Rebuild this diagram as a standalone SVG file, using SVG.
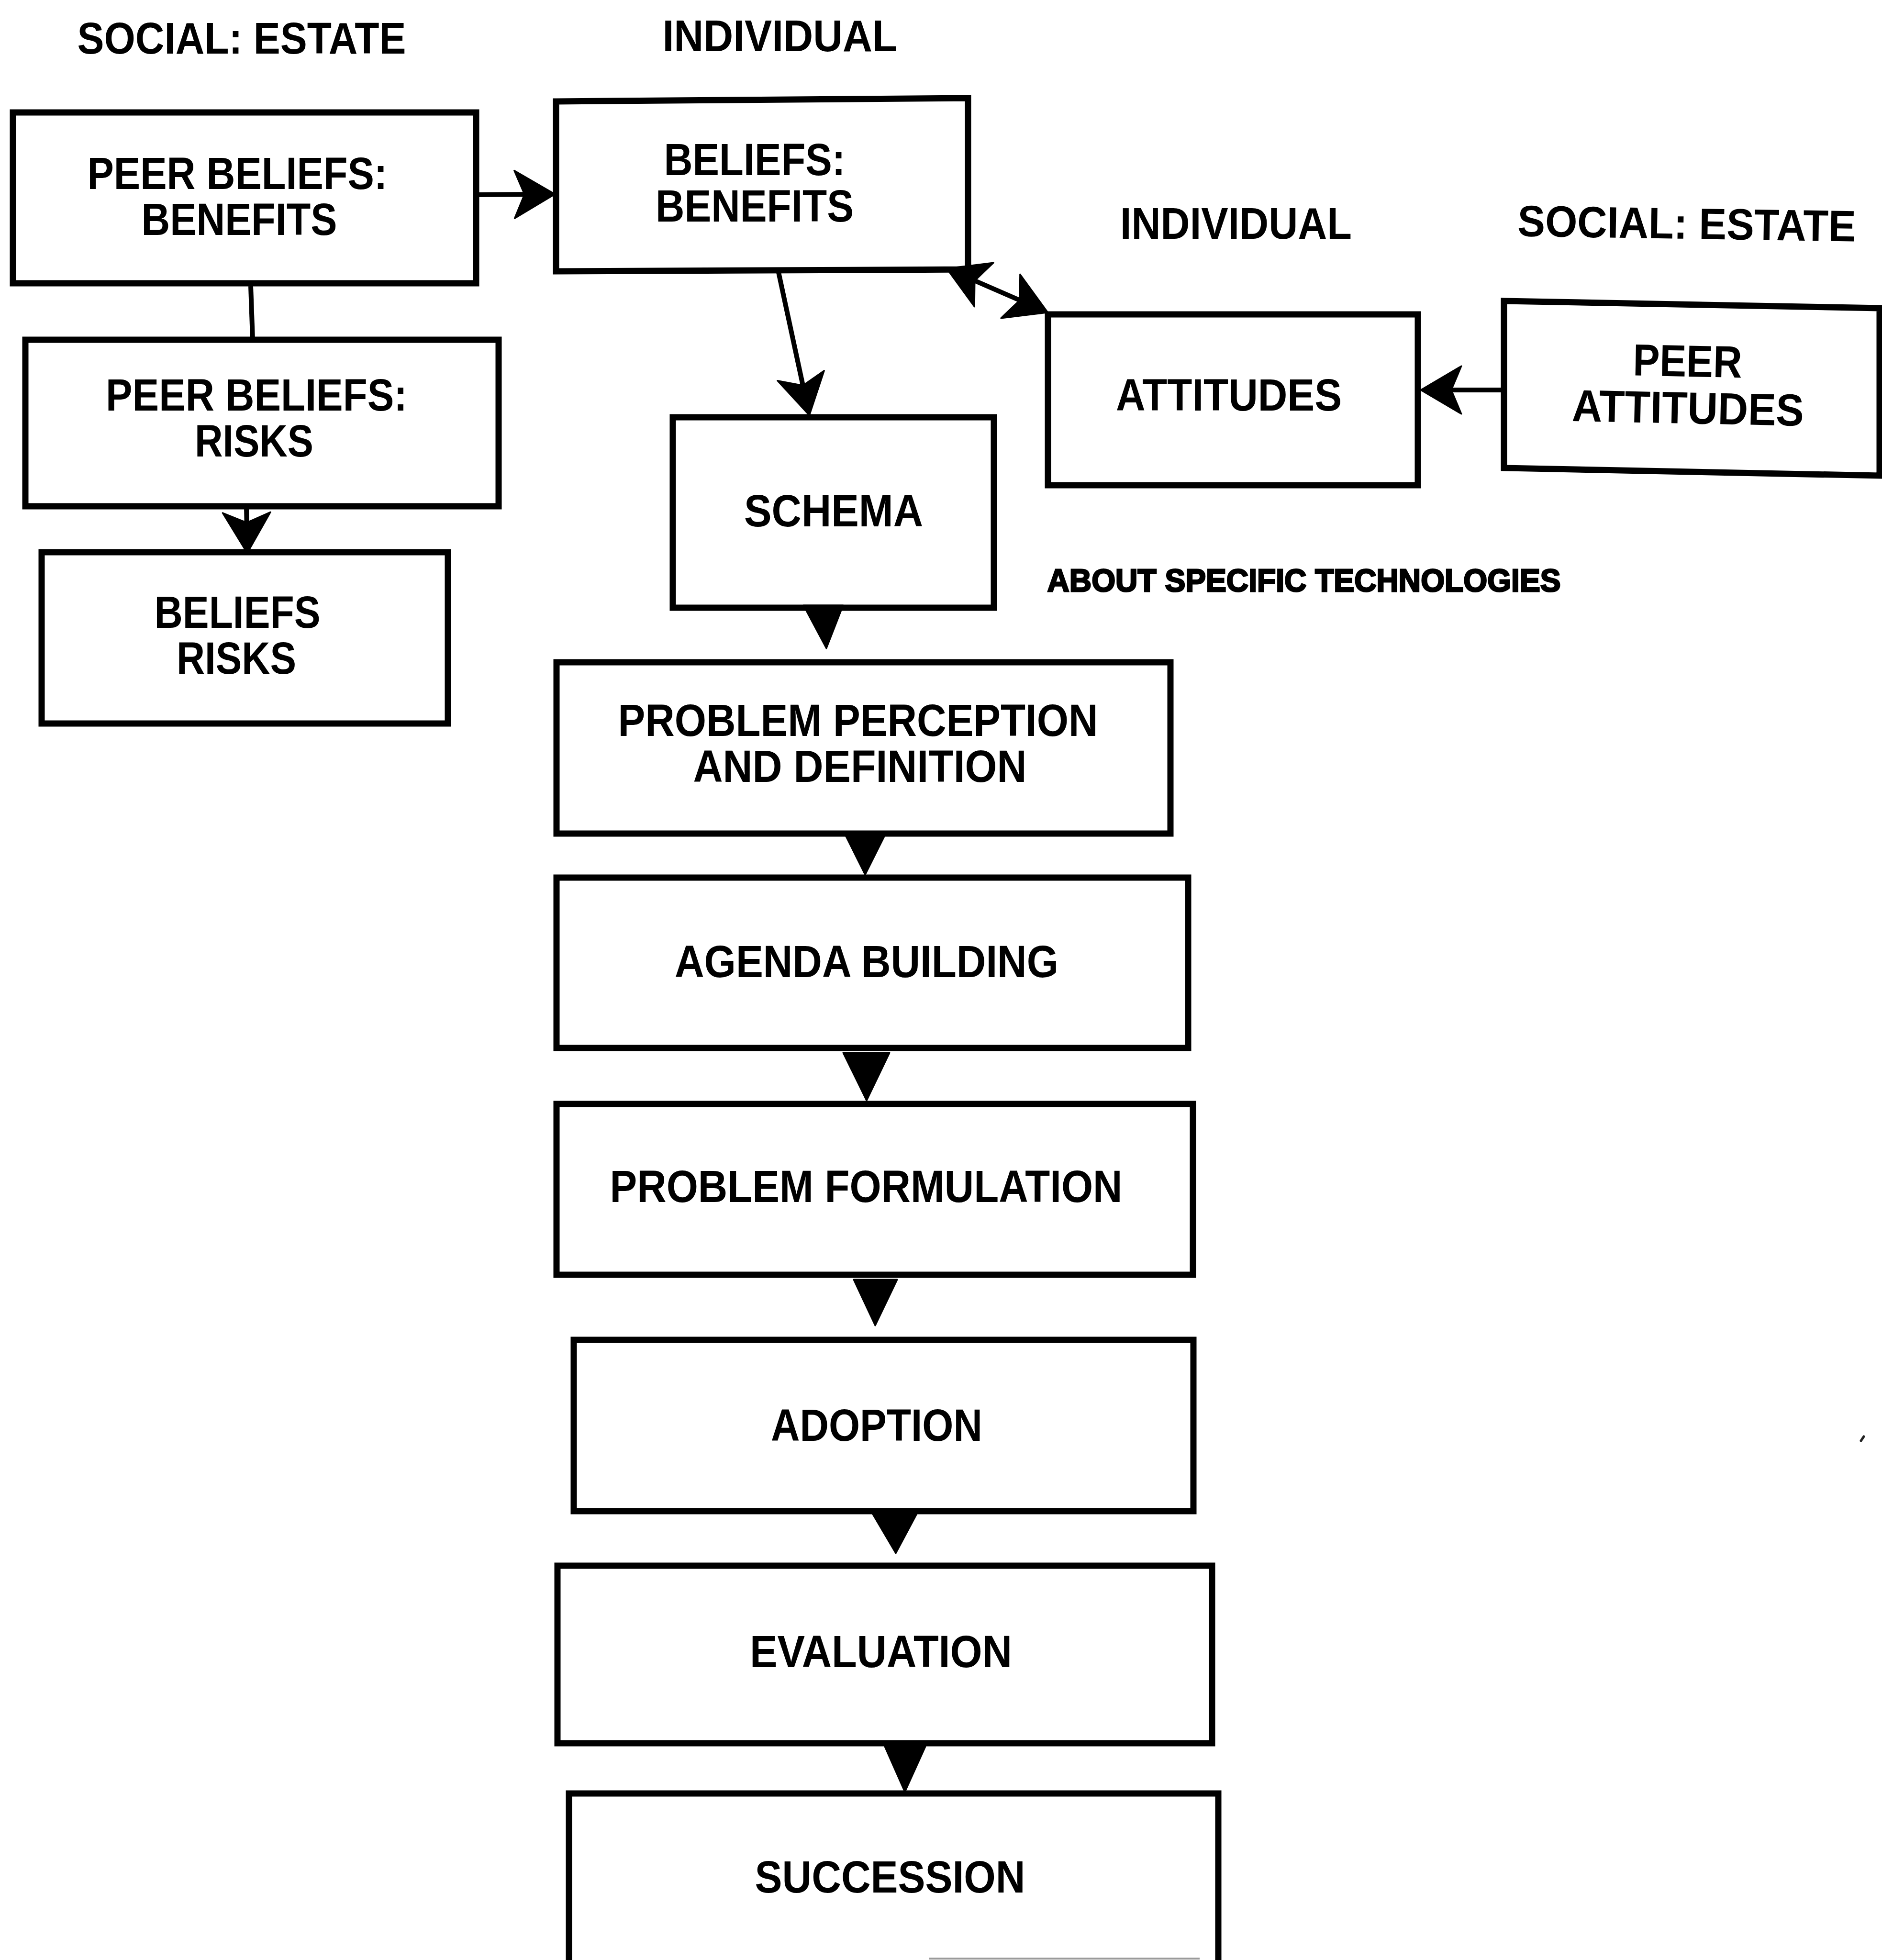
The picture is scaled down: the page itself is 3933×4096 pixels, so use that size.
<svg xmlns="http://www.w3.org/2000/svg" width="3933" height="4096" viewBox="0 0 3933 4096">
  <style>
    .box{fill:#fff;stroke:#000;stroke-width:13;stroke-linejoin:miter}
    .lbl{font-family:"Liberation Sans",Arial,sans-serif;font-weight:bold;font-size:94px;fill:#000;text-anchor:middle}
    .hdr{font-family:"Liberation Sans",Arial,sans-serif;font-weight:bold;font-size:92px;fill:#000;text-anchor:middle}
    .note{font-family:"Liberation Sans",Arial,sans-serif;font-weight:bold;font-size:66px;fill:#000;stroke:#000;stroke-width:3;text-anchor:middle}
    .wire{fill:none;stroke:#000;stroke-width:10}
    .tri{fill:#000;stroke:#000;stroke-width:3;stroke-linejoin:round}
  </style>
  <defs>
    <!-- barbed arrowhead; tip sits 40 units beyond the path end -->
    <marker id="barb" markerUnits="userSpaceOnUse" orient="auto-start-reverse" refX="0" refY="0" markerWidth="10" markerHeight="10" style="overflow:visible">
      <path d="M40,0 L-45,-50 L-24,0 L-45,50 Z" fill="#000" stroke="#000" stroke-width="3" stroke-linejoin="round"/>
    </marker>
  </defs>
  <rect width="3933" height="4096" fill="#fff"/>

  <!-- column headings -->
  <g id="headings">
    <text class="hdr" x="505" y="112" textLength="687" lengthAdjust="spacingAndGlyphs">SOCIAL: ESTATE</text>
    <text class="hdr" x="1630" y="107" textLength="491" lengthAdjust="spacingAndGlyphs">INDIVIDUAL</text>
    <text class="hdr" x="2583" y="499" textLength="484" lengthAdjust="spacingAndGlyphs">INDIVIDUAL</text>
    <text class="hdr" x="3525" y="499" textLength="707" lengthAdjust="spacingAndGlyphs" transform="rotate(0.9 3525 470)">SOCIAL: ESTATE</text>
  </g>

  <g id="peer-beliefs-benefits">
    <rect class="box" x="27" y="235" width="968" height="357"/>
    <text class="lbl" x="496" y="395" textLength="627" lengthAdjust="spacingAndGlyphs">PEER BELIEFS:</text>
    <text class="lbl" x="500" y="491" textLength="409" lengthAdjust="spacingAndGlyphs">BENEFITS</text>
  </g>

  <g id="beliefs-benefits">
    <polygon class="box" points="1162,212 2023,205 2023,563 1162,567"/>
    <text class="lbl" x="1577" y="366" textLength="379" lengthAdjust="spacingAndGlyphs">BELIEFS:</text>
    <text class="lbl" x="1577" y="463" textLength="414" lengthAdjust="spacingAndGlyphs">BENEFITS</text>
  </g>

  <g id="peer-beliefs-risks">
    <rect class="box" x="53" y="710" width="989" height="348"/>
    <text class="lbl" x="536" y="858" textLength="630" lengthAdjust="spacingAndGlyphs">PEER BELIEFS:</text>
    <text class="lbl" x="531" y="954" textLength="248" lengthAdjust="spacingAndGlyphs">RISKS</text>
  </g>

  <g id="beliefs-risks">
    <rect class="box" x="87" y="1154" width="849" height="358"/>
    <text class="lbl" x="496" y="1312" textLength="347" lengthAdjust="spacingAndGlyphs">BELIEFS</text>
    <text class="lbl" x="494" y="1408" textLength="250" lengthAdjust="spacingAndGlyphs">RISKS</text>
  </g>

  <g id="schema">
    <rect class="box" x="1406" y="872" width="671" height="398"/>
    <text class="lbl" x="1742" y="1100" textLength="374" lengthAdjust="spacingAndGlyphs">SCHEMA</text>
  </g>

  <g id="attitudes">
    <rect class="box" x="2190" y="657" width="773" height="357"/>
    <text class="lbl" x="2568" y="858" textLength="472" lengthAdjust="spacingAndGlyphs">ATTITUDES</text>
  </g>

  <g id="peer-attitudes">
    <polygon class="box" points="3143,629 3928,644 3928,994 3143,978"/>
    <g transform="rotate(1.2 3528 830)">
      <text class="lbl" x="3525" y="787" textLength="228" lengthAdjust="spacingAndGlyphs">PEER</text>
      <text class="lbl" x="3528" y="885" textLength="485" lengthAdjust="spacingAndGlyphs">ATTITUDES</text>
    </g>
  </g>

  <g id="technologies-note">
    <text class="note" x="2725" y="1236" textLength="1073" lengthAdjust="spacingAndGlyphs">ABOUT SPECIFIC TECHNOLOGIES</text>
  </g>

  <g id="problem-perception">
    <rect class="box" x="1163" y="1384" width="1283" height="358"/>
    <text class="lbl" x="1793" y="1538" textLength="1003" lengthAdjust="spacingAndGlyphs">PROBLEM PERCEPTION</text>
    <text class="lbl" x="1797" y="1634" textLength="697" lengthAdjust="spacingAndGlyphs">AND DEFINITION</text>
  </g>

  <g id="agenda-building">
    <rect class="box" x="1163" y="1834" width="1320" height="356"/>
    <text class="lbl" x="1811" y="2042" textLength="802" lengthAdjust="spacingAndGlyphs">AGENDA BUILDING</text>
  </g>

  <g id="problem-formulation">
    <rect class="box" x="1163" y="2307" width="1330" height="357"/>
    <text class="lbl" x="1810" y="2512" textLength="1071" lengthAdjust="spacingAndGlyphs">PROBLEM FORMULATION</text>
  </g>

  <g id="adoption">
    <rect class="box" x="1199" y="2800" width="1295" height="358"/>
    <text class="lbl" x="1832" y="3011" textLength="442" lengthAdjust="spacingAndGlyphs">ADOPTION</text>
  </g>

  <g id="evaluation">
    <rect class="box" x="1165" y="3272" width="1368" height="371"/>
    <text class="lbl" x="1841" y="3484" textLength="548" lengthAdjust="spacingAndGlyphs">EVALUATION</text>
  </g>

  <g id="succession">
    <path class="box" d="M1189,4110 V3748 H2546 V4110"/>
    <line x1="1942" y1="4093" x2="2507" y2="4093" stroke="#9a9a9a" stroke-width="4"/>
    <text class="lbl" x="1860" y="3955" textLength="565" lengthAdjust="spacingAndGlyphs">SUCCESSION</text>
  </g>

  <!-- connectors -->
  <g id="connectors">
    <path class="wire" d="M995,407 L1120,406" marker-end="url(#barb)"/>
    <path class="wire" d="M524,598 L528,710"/>
    <path class="wire" d="M515,1058 L516,1116" marker-end="url(#barb)"/>
    <path class="wire" d="M1627,569 L1683,829" marker-end="url(#barb)"/>
    <path class="wire" d="M2015,577 L2153,637" marker-start="url(#barb)" marker-end="url(#barb)"/>
    <path class="wire" d="M3143,815 L3009,815" marker-end="url(#barb)"/>
    <polygon class="tri" points="1679,1265 1762,1265 1727,1355"/>
    <polygon class="tri" points="1764,1740 1852,1740 1808,1828"/>
    <polygon class="tri" points="1762,2200 1859,2200 1811,2300"/>
    <polygon class="tri" points="1784,2674 1875,2674 1829,2770"/>
    <polygon class="tri" points="1819,3156 1920,3156 1872,3246"/>
    <polygon class="tri" points="1849,3650 1934,3650 1891,3745"/>
  </g>

  <!-- stray mark at right margin -->
  <path d="M3889,3011 L3895,3002" stroke="#222" stroke-width="5" stroke-linecap="round"/>
</svg>
